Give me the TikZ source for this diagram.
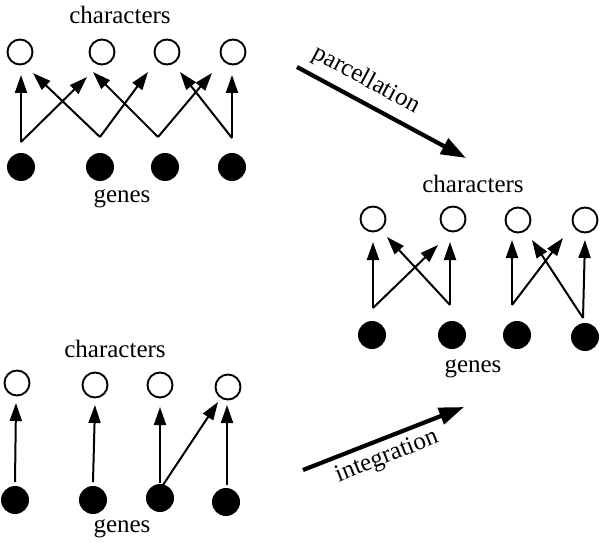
\documentclass[tikz,border=0pt]{standalone}
\usepackage{fontspec}
\setmainfont{Liberation Serif}
\usetikzlibrary{arrows.meta}
\begin{document}
\begin{tikzpicture}[x=1pt,y=-1pt,
  char/.style={circle,draw,line width=1.9pt,minimum size=25pt,inner sep=0pt},
  gene/.style={circle,fill=black,minimum size=28pt,inner sep=0pt},
  link/.style={line width=2pt,-{Triangle[length=18pt,width=12pt]}},
  big/.style={line width=4.2pt,-{Triangle[length=25pt,width=17pt]}},
  lab/.style={font=\fontsize{25}{28}\selectfont,inner sep=0pt}]
\useasboundingbox (0,0) rectangle (600,543);

% ---------- top-left group ----------
\node[lab] (tlc) at (120,15) {characters};
\node[lab] (tlg) at (122,199) {genes};
\node[char] (a1) at (20,52) {};
\node[char] (a2) at (102,52) {};
\node[char] (a3) at (167,52) {};
\node[char] (a4) at (233,52) {};
\node[gene] (b1) at (21,167) {};
\node[gene] (b2) at (100,167) {};
\node[gene] (b3) at (165,167) {};
\node[gene] (b4) at (232,167) {};
\coordinate (av1) at (21,142);
\coordinate (av2) at (100,137);
\coordinate (av3) at (158,137);
\coordinate (av4) at (232,138);
\coordinate (at11) at (21,75);
\coordinate (at12) at (87,77);
\coordinate (at21) at (33,73);
\coordinate (at22) at (148,72);
\coordinate (at31) at (93,72);
\coordinate (at32) at (212,73);
\coordinate (at41) at (232,75);
\coordinate (at42) at (180,72);
\draw[link] (av1) -- (at11);
\draw[link] (av1) -- (at12);
\draw[link] (av2) -- (at21);
\draw[link] (av2) -- (at22);
\draw[link] (av3) -- (at31);
\draw[link] (av3) -- (at32);
\draw[link] (av4) -- (at41);
\draw[link] (av4) -- (at42);

% ---------- right group ----------
\node[lab] (rc) at (473,184) {characters};
\node[lab] (rg) at (473,369) {genes};
\node[char] (c1) at (373,219) {};
\node[char] (c2) at (453,219) {};
\node[char] (c3) at (518,220) {};
\node[char] (c4) at (585,220) {};
\node[gene] (d1) at (372,335) {};
\node[gene] (d2) at (452,335) {};
\node[gene] (d3) at (517,335) {};
\node[gene] (d4) at (585,337) {};
\coordinate (cv1) at (373,308);
\coordinate (cv2) at (450,305);
\coordinate (cv3) at (512,305);
\coordinate (cv4) at (583,318);
\coordinate (ct11) at (373,242);
\coordinate (ct12) at (438,245);
\coordinate (ct21) at (450,242);
\coordinate (ct22) at (387,237);
\coordinate (ct31) at (512,240);
\coordinate (ct32) at (563,238);
\coordinate (ct41) at (585,240);
\coordinate (ct42) at (532,240);
\draw[link] (cv1) -- (ct11);
\draw[link] (cv1) -- (ct12);
\draw[link] (cv2) -- (ct21);
\draw[link] (cv2) -- (ct22);
\draw[link] (cv3) -- (ct31);
\draw[link] (cv3) -- (ct32);
\draw[link] (cv4) -- (ct41);
\draw[link] (cv4) -- (ct42);

% ---------- bottom-left group ----------
\node[lab] (blc) at (115,349) {characters};
\node[lab] (blg) at (122,529) {genes};
\node[char] (e1) at (17,383) {};
\node[char] (e2) at (95,385) {};
\node[char] (e3) at (160,385) {};
\node[char] (e4) at (228,387) {};
\node[gene] (f1) at (15,500) {};
\node[gene] (f2) at (93,500) {};
\node[gene] (f3) at (160,498) {};
\node[gene] (f4) at (226,502) {};
\coordinate (ev1) at (15,482);
\coordinate (ev2) at (93,482);
\coordinate (ev3) at (160,483);
\coordinate (ev3b) at (163,485);
\coordinate (ev4) at (227,485);
\coordinate (et1) at (16,403);
\coordinate (et2) at (95,405);
\coordinate (et3) at (160,407);
\coordinate (et3b) at (218,402);
\coordinate (et4) at (227,405);
\draw[link] (ev1) -- (et1);
\draw[link] (ev2) -- (et2);
\draw[link] (ev3) -- (et3);
\draw[link] (ev3b) -- (et3b);
\draw[link] (ev4) -- (et4);

% ---------- transitions ----------
\coordinate (p1) at (297,67);
\coordinate (p2) at (466,158);
\draw[big] (p1) -- (p2);
\node[lab,rotate=-28.4] (pl) at (366,80) {parcellation};
\coordinate (i1) at (303,470);
\coordinate (i2) at (464,407);
\draw[big] (i1) -- (i2);
\node[lab,rotate=21.5] (il) at (387,457) {integration};
\end{tikzpicture}
\end{document}
